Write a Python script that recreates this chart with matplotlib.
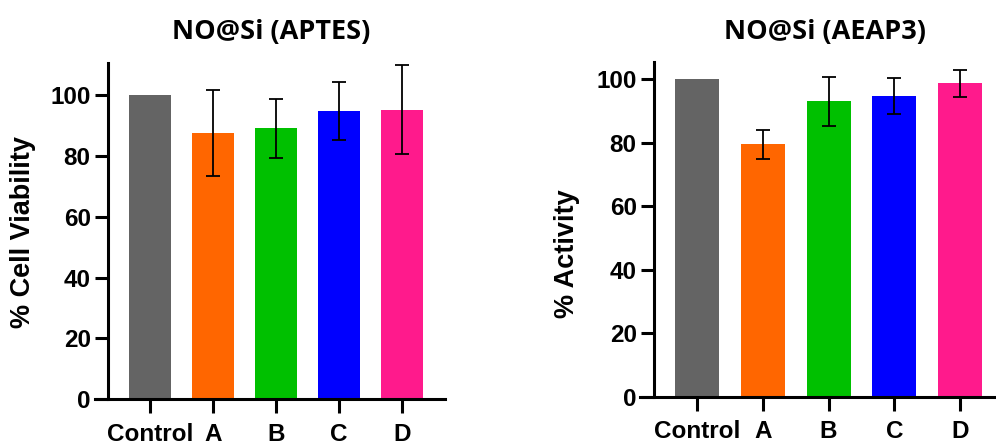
import matplotlib
matplotlib.use("Agg")
import matplotlib.pyplot as plt

categories = ["Control", "A", "B", "C", "D"]
viability = [100.0, 87.5, 89.0, 94.8, 95.2]
viability_err = [0.0, 14.0, 9.6, 9.5, 14.7]
activity = [100.0, 79.5, 93.1, 94.9, 98.8]
activity_err = [0.0, 4.5, 7.7, 5.7, 4.3]
colors = ["#646464", "#FF6600", "#00C000", "#0000FF", "#FF1A8C"]
titles = ["NO@Si (APTES)", "NO@Si (AEAP3)"]
ylabels = ["% Cell Viability", "% Activity"]

W, H = 996, 441
fig = plt.figure(figsize=(W / 100, H / 100), dpi=100)

def px_axes(x0, x1, ytop, ybot):
    return fig.add_axes([x0 / W, (H - ybot) / H, (x1 - x0) / W, (ybot - ytop) / H])

specs = [
    dict(x0=95, x1=445, ytop=63, ybot=399.3, spine=-0.67, spine_px=108, xr=4.68, ytopv=110.5,
         vals=viability, errs=viability_err, title_x=271, ylab_x=23, ylab_y=232),
    dict(x0=640, x1=996, ytop=61.7, ybot=396.7, spine=-0.66, spine_px=654, xr=4.55, ytopv=105.6,
         vals=activity, errs=activity_err, title_x=825, ylab_x=567, ylab_y=254),
]

font = "Liberation Sans"
for i, s in enumerate(specs):
    ax = px_axes(s["x0"], s["x1"], s["ytop"], s["ybot"])
    x = list(range(len(categories)))
    ax.bar(x, s["vals"], width=0.67, color=colors, zorder=2)
    ax.errorbar(x[1:], s["vals"][1:], yerr=s["errs"][1:], fmt="none", ecolor="black",
                elinewidth=1.3, capsize=5, capthick=1.3, zorder=3)
    upp = (s["xr"] - s["spine"]) / (s["x1"] - s["spine_px"])
    xl = s["spine"] - (s["spine_px"] - s["x0"]) * upp
    ax.set_xlim(xl, s["xr"])
    ax.set_ylim(0, s["ytopv"])
    ax.spines["left"].set_position(("data", s["spine"]))
    ax.spines["top"].set_visible(False)
    ax.spines["right"].set_visible(False)
    for sp in ("left", "bottom"):
        ax.spines[sp].set_linewidth(2.2)
    ax.set_yticks([0, 20, 40, 60, 80, 100])
    ax.set_xticks(x)
    ax.set_xticklabels(categories)
    ax.tick_params(axis="both", direction="out", length=9.5, width=2.2, labelsize=17.5, pad=3)
    ax.tick_params(axis="x", length=10, pad=7)
    for lab in ax.get_xticklabels() + ax.get_yticklabels():
        lab.set_fontfamily(font)
        lab.set_fontweight("bold")
    ax.patch.set_visible(False)
    fig.text(s["title_x"] / W, 1 - 32 / H, titles[i], ha="center", va="center",
             fontsize=19.5, fontweight="bold", family="Open Sans")
    fig.text(s["ylab_x"] / W, 1 - s["ylab_y"] / H, ylabels[i], ha="center", va="center",
             rotation=90, fontsize=19.5, fontweight="bold", family=font)

fig.savefig("out.png", dpi=100)
